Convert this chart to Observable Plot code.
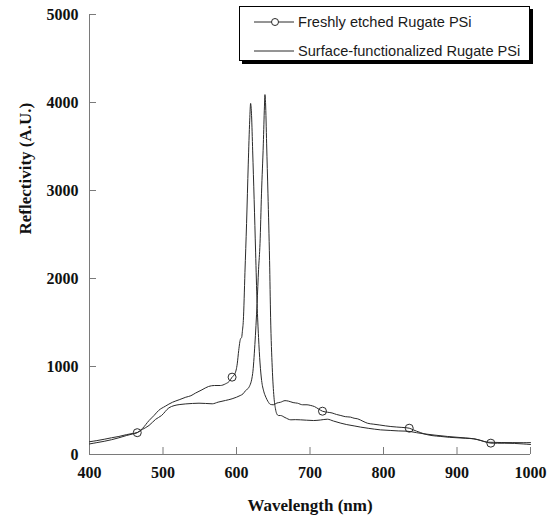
<!DOCTYPE html>
<html>
<head>
<meta charset="utf-8">
<script src="https://cdn.jsdelivr.net/npm/d3@7"></script>
<script src="https://cdn.jsdelivr.net/npm/@observablehq/plot@0.6"></script>
<style>
  html, body { margin: 0; padding: 0; background: #fff; }
  #wrap { position: relative; width: 551px; height: 519px; }
  #legend {
    position: absolute; left: 239px; top: 6px; width: 289px; height: 53px;
    border: 1px solid #000; background: #fff; box-shadow: 3px 3px 0 #000;
    font-family: "Liberation Sans", Arial, sans-serif; font-size: 14.6px; color: #1a1a1a;
  }
  .row { position: absolute; left: 0; height: 20px; display: flex; align-items: center; }
  .row svg { margin-left: 14px; }
  .row span { margin-left: 4px; white-space: nowrap; }
</style>
</head>
<body>
<div id="wrap"></div>
<script>
// ---- data ----
const seriesNames = ["Freshly etched Rugate PSi", "Surface-functionalized Rugate PSi"];

const freshWl = [400,410,420,430,440,450,458,465,472,481,488,494,503,513,522,531,538,544,553,562,570,578,585,590,594,598,601,603,605.5,607,608,609.3,611.5,613.7,616,618,619.2,620.5,622,624,626,628,630,632,634.2,637,640,643,646,650,655,660,666,671,677,683,690,696,701,706,712,717,724,730,736,742,748,755,760,765,772,778,786,795,803,810,818,825,835,840,845,850,855,866,878,890,900,912,923,930,937,946,955,965,978,990,1000];
const freshR  = [120,135,150,168,190,215,232,248,295,386,445,500,548,594,622,651,668,697,735,773,784,784,803,830,879,920,1030,1182,1315,1330,1400,1523,2070,2625,3300,3800,3990,3850,3450,2900,2300,1716,1330,1040,840,720,650,600,570,565,585,594,612,606,590,583,565,565,557,545,515,492,480,472,455,443,430,425,412,405,378,356,345,335,325,318,312,308,299,282,265,250,235,215,205,195,190,184,178,165,148,129,128,128,126,120,114];

const funcWl = [400,410,420,430,440,450,458,465,472,481,490,498,508,515,523,531,540,549,558,567,575,585,594,600,605,609,612.4,617,622,625,628,630,632,634,636.5,638,638.7,639.5,641,642.8,645,646.4,648.6,651,653,654.6,657,660,666,674,680,687,695,705,714,723.6,732,742,750,760,769,780,796,810,820,832,845,855,870,887,900,912,923,932,941,950,960,975,990,1000];
const funcR  = [145,158,173,190,205,225,238,250,285,330,400,443,530,555,568,575,580,583,580,576,595,614,633,651,670,690,727,765,920,1250,1716,2100,2400,2962,3530,3950,4090,4000,3530,2962,2205,1560,992,651,520,466,443,443,420,394,396,394,390,386,392,401,380,356,340,325,311,297,280,273,268,265,248,235,220,205,196,188,178,160,140,138,136,135,134,135];

// wavelengths where the freshly-etched curve carries an open-circle marker
const freshMarkerWl = [465, 594, 717, 835, 946];

const xTicks = [400, 500, 600, 700, 800, 900, 1000];
const yTicks = [0, 1000, 2000, 3000, 4000, 5000];
const xLabel = "Wavelength (nm)";
const yLabel = "Reflectivity (A.U.)";

// ---- build tables ----
const fresh = freshWl.map((w, i) => ({wl: w, r: freshR[i], s: seriesNames[0]}));
const func = funcWl.map((w, i) => ({wl: w, r: funcR[i], s: seriesNames[1]}));
const freshMarkers = fresh.filter(d => freshMarkerWl.includes(d.wl));

const ink = "#2a2a2a";
const axisGray = "#7a7a7a";

const chart = Plot.plot({
  width: 551,
  height: 519,
  marginLeft: 89,
  marginRight: 21,
  marginTop: 14,
  marginBottom: 65,
  style: {fontFamily: "'Liberation Serif', 'Times New Roman', serif", fontWeight: "bold", color: "#111", background: "#fff"},
  x: {domain: [400, 1000], label: null},
  y: {domain: [0, 5000], label: null},
  marks: [
    Plot.ruleX([400], {stroke: axisGray}),
    Plot.ruleY([0], {stroke: axisGray}),
    // inward ticks
    Plot.axisX({ticks: xTicks, tickSize: 7, dy: -7, text: null, stroke: axisGray}),
    Plot.axisY({ticks: yTicks, tickSize: 7, dx: 7, text: null, stroke: axisGray}),
    // tick labels
    Plot.axisX({ticks: xTicks, tickSize: 0, tickPadding: 12, fontSize: 16, fontWeight: "bold", tickFormat: d => String(d)}),
    Plot.axisY({ticks: yTicks, tickSize: 0, tickPadding: 11, fontSize: 16, fontWeight: "bold", tickFormat: d => String(d)}),
    // axis titles
    Plot.text([xLabel], {text: d => d, frameAnchor: "bottom", dy: 51, fontSize: 17, fontWeight: "bold", lineAnchor: "middle"}),
    Plot.text([yLabel], {text: d => d, frameAnchor: "left", dx: -64, rotate: -90, fontSize: 17, fontWeight: "bold", lineAnchor: "middle"}),
    // curves
    Plot.line(func, {x: "wl", y: "r", stroke: ink, strokeWidth: 1, curve: "monotone-x"}),
    Plot.line(fresh, {x: "wl", y: "r", stroke: ink, strokeWidth: 1, curve: "monotone-x"}),
    Plot.dot(freshMarkers, {x: "wl", y: "r", r: 4, stroke: ink, strokeWidth: 1, fill: "none"})
  ]
});

const wrap = document.getElementById("wrap");
wrap.appendChild(chart);

// legend
const legend = document.createElement("div");
legend.id = "legend";
legend.innerHTML = `
  <div class="row" style="top:5px">
    <svg width="40" height="10"><line x1="0" y1="5" x2="40" y2="5" stroke="${ink}" stroke-width="1"/><circle cx="21" cy="5" r="3.5" fill="#fff" stroke="${ink}" stroke-width="1"/></svg>
    <span>${seriesNames[0]}</span>
  </div>
  <div class="row" style="top:34px">
    <svg width="40" height="10"><line x1="0" y1="5" x2="40" y2="5" stroke="${ink}" stroke-width="1"/></svg>
    <span>${seriesNames[1]}</span>
  </div>`;
wrap.appendChild(legend);
</script>
</body>
</html>
